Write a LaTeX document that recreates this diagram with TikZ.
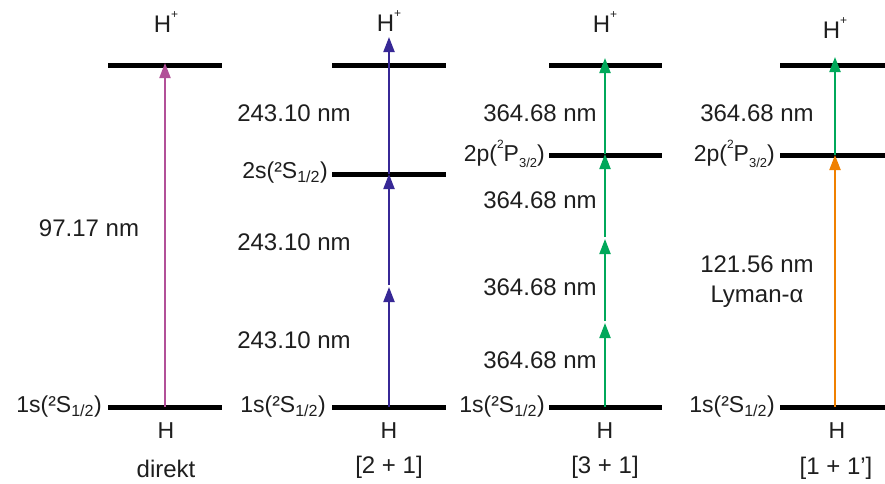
\documentclass[tikz,border=0pt]{standalone}
\usepackage{fontspec}
\setmainfont{Liberation Sans}
\usetikzlibrary{arrows.meta}
\definecolor{cmag}{RGB}{178,80,152}
\definecolor{cblue}{RGB}{55,40,150}
\definecolor{cgreen}{RGB}{0,168,90}
\definecolor{corange}{RGB}{240,128,0}
\definecolor{ctext}{RGB}{30,30,30}
\newcommand{\lvlOneS}{1s(²S\textsubscript{1/2})}
\newcommand{\lvlTwoS}{2s(²S\textsubscript{1/2})}
\newcommand{\lvlTwoP}{2p(\raisebox{0.55em}{\fontsize{12}{12}\selectfont 2}P\raisebox{-0.25em}{\fontsize{13}{13}\selectfont 3/2})}
\newcommand{\Hplus}{H\raisebox{0.6em}{\fontsize{12}{12}\selectfont +}}
\begin{document}
\begin{tikzpicture}[x=1pt,y=-1pt,
  levelline/.style={line width=5pt},
  txt/.style={font=\fontsize{23}{27}\selectfont, inner sep=0pt, text=ctext},
  big/.style={font=\fontsize{24}{28}\selectfont, inner sep=0pt, text=ctext},
  exc/.style={line width=2pt, -{Triangle[length=15pt,width=11pt]}},
]
\useasboundingbox (0,0) rectangle (885,483);

% ---------- column 1: direkt ----------
\coordinate (a0) at (165,407);
\coordinate (a1) at (165,63);
\draw[levelline] (108,65) -- (222,65);
\draw[levelline] (108,407) -- (222,407);
\draw[exc, cmag] (a0) -- (a1);
\node[big] (a_hp) at (166,22) {\Hplus};
\node[txt] (a_h) at (166,431) {H};
\node[big] (a_d) at (166,469) {direkt};
\node[txt, anchor=east] (a_s) at (102,407) {\lvlOneS};
\node[big] (a_l) at (89,228) {97.17 nm};

% ---------- column 2: [2 + 1] ----------
\coordinate (b0) at (389,407);
\coordinate (b1) at (389,287);
\coordinate (b2) at (389,174);
\coordinate (b3) at (389,37);
\draw[levelline] (332,65) -- (446,65);
\draw[levelline] (332,174) -- (446,174);
\draw[levelline] (332,407) -- (446,407);
\draw[exc, cblue] (b0) -- (b1);
\draw[exc, cblue, shorten <=2pt] (b1) -- (b2);
\draw[exc, cblue] (b2) -- (b3);
\node[big] (b_hp) at (389,21) {\Hplus};
\node[txt] (b_h) at (389,431) {H};
\node[big] (b_d) at (389,467) {[2 + 1]};
\node[txt, anchor=east] (b_s) at (326,407) {\lvlOneS};
\node[txt, anchor=east] (b_s2) at (328,173) {\lvlTwoS};
\node[big] (b_l1) at (294,113) {243.10 nm};
\node[big] (b_l2) at (294,242) {243.10 nm};
\node[big] (b_l3) at (294,340) {243.10 nm};

% ---------- column 3: [3 + 1] ----------
\coordinate (c0) at (605,407);
\coordinate (c1) at (605,323);
\coordinate (c2) at (605,239);
\coordinate (c3) at (605,154);
\coordinate (c4) at (605,58);
\draw[levelline] (549,65) -- (662,65);
\draw[levelline] (549,155) -- (662,155);
\draw[levelline] (549,407) -- (662,407);
\draw[exc, cgreen] (c0) -- (c1);
\draw[exc, cgreen, shorten <=2pt] (c1) -- (c2);
\draw[exc, cgreen, shorten <=2pt] (c2) -- (c3);
\draw[exc, cgreen] (c3) -- (c4);
\node[big] (c_hp) at (605,22) {\Hplus};
\node[txt] (c_h) at (605,431) {H};
\node[big] (c_d) at (605,467) {[3 + 1]};
\node[txt, anchor=east] (c_s) at (545,407) {\lvlOneS};
\node[txt, anchor=east] (c_s2) at (545,154) {\lvlTwoP};
\node[big] (c_l1) at (540,113) {364.68 nm};
\node[big] (c_l2) at (540,200) {364.68 nm};
\node[big] (c_l3) at (540,287) {364.68 nm};
\node[big] (c_l4) at (540,360) {364.68 nm};

% ---------- column 4: [1 + 1'] ----------
\coordinate (d0) at (835,407);
\coordinate (d1) at (835,155);
\coordinate (d2) at (835,57);
\draw[levelline] (780,65) -- (885,65);
\draw[levelline] (780,155) -- (885,155);
\draw[levelline] (780,407) -- (885,407);
\draw[exc, corange] (d0) -- (d1);
\draw[exc, cgreen] (d1) -- (d2);
\node[big] (d_hp) at (835,28) {\Hplus};
\node[txt] (d_h) at (837,431) {H};
\node[big] (d_d) at (836,468) {[1 + 1']};
\node[txt, anchor=east] (d_s) at (775,407) {\lvlOneS};
\node[txt, anchor=east] (d_s2) at (775,154) {\lvlTwoP};
\node[big] (d_l1) at (757,113) {364.68 nm};
\node[big] (d_l2) at (757,264) {121.56 nm};
\node[big] (d_l3) at (757,297) {Lyman-α};
\end{tikzpicture}
\end{document}
